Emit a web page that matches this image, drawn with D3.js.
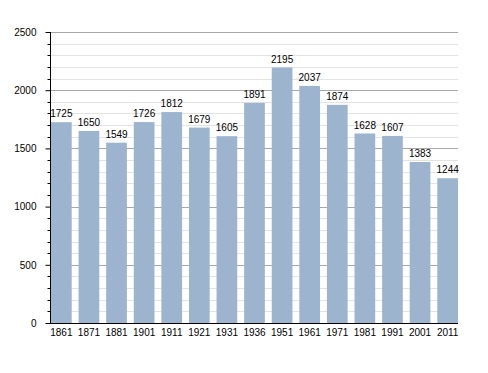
<!DOCTYPE html>
<html>
<head>
<meta charset="utf-8">
<script src="https://cdn.jsdelivr.net/npm/d3@7"></script>
<style>
body { margin: 0; background: #fff; }
text { font-family: "Liberation Sans", Arial, sans-serif; font-size: 10px; fill: #000; }
</style>
</head>
<body>
<div id="graph"></div>
<script>
// data
var years = ["1861","1871","1881","1901","1911","1921","1931","1936","1951","1961","1971","1981","1991","2001","2011"];
var population = [1725,1650,1549,1726,1812,1679,1605,1891,2195,2037,1874,1628,1607,1383,1244];
var yTicks = [0,500,1000,1500,2000,2500];

var width = 488, height = 373;
var plotLeft = 50, plotRight = 458, plotTop = 32, plotBottom = 323;

var svg = d3.select("#graph").append("svg")
    .attr("width", width)
    .attr("height", height);

var x = d3.scaleBand().domain(years).range([plotLeft + 1, plotRight]).paddingInner(0.25).paddingOuter(0);
var y = d3.scaleLinear().domain([0, 2500]).range([plotBottom, plotTop]);

var minor = d3.range(100, 2500, 100).filter(function(d) { return d % 500 != 0; });

// minor grid
svg.append("g").selectAll("line")
    .data(minor)
    .enter().append("line")
    .attr("x1", plotLeft).attr("x2", plotRight)
    .attr("y1", function(d) { return Math.round(y(d)) + 0.5; })
    .attr("y2", function(d) { return Math.round(y(d)) + 0.5; })
    .style("stroke", "#e3e3e3");

// major grid
svg.append("g").selectAll("line")
    .data(yTicks.slice(1))
    .enter().append("line")
    .attr("x1", plotLeft).attr("x2", plotRight)
    .attr("y1", function(d) { return Math.round(y(d)) + 0.5; })
    .attr("y2", function(d) { return Math.round(y(d)) + 0.5; })
    .style("stroke", "#a8a8a8");

// bars
svg.selectAll(".bar")
    .data(population)
    .enter().append("rect")
    .attr("class", "bar")
    .attr("x", function(d, i) { return x(years[i]); })
    .attr("width", x.bandwidth())
    .attr("y", function(d) { return y(d); })
    .attr("height", function(d) { return plotBottom - y(d); })
    .style("fill", "#9cb4ce");

// value labels
svg.selectAll(".val")
    .data(population)
    .enter().append("text")
    .attr("text-anchor", "middle")
    .attr("x", function(d, i) { return x(years[i]) + x.bandwidth() / 2; })
    .attr("y", function(d) { return y(d) - 5; })
    .text(function(d) { return d; });

// y axis
var yAxis = d3.axisLeft(y).tickValues(yTicks).tickFormat(d3.format("d")).tickSize(5).tickPadding(9);
var ga = svg.append("g").attr("transform", "translate(" + (plotLeft + 0.5) + ",0)").call(yAxis);
ga.attr("font-family", null).attr("font-size", null);
ga.select(".domain").attr("d", "M0," + plotTop + "V" + (plotBottom + 0.5)).style("stroke", "#000");
ga.selectAll(".tick line").style("stroke", "#000");

// minor ticks
svg.append("g").selectAll("line")
    .data(minor)
    .enter().append("line")
    .attr("x1", plotLeft - 2.5).attr("x2", plotLeft)
    .attr("y1", function(d) { return Math.round(y(d)) + 0.5; })
    .attr("y2", function(d) { return Math.round(y(d)) + 0.5; })
    .style("stroke", "#000");

// x axis
var xAxis = d3.axisBottom(x).tickSize(0).tickPadding(5);
var gx = svg.append("g").attr("transform", "translate(0," + (plotBottom + 0.5) + ")").call(xAxis);
gx.attr("font-family", null).attr("font-size", null);
gx.select(".domain").attr("d", "M" + plotLeft + ",0H" + plotRight).style("stroke", "#000");
</script>
</body>
</html>
